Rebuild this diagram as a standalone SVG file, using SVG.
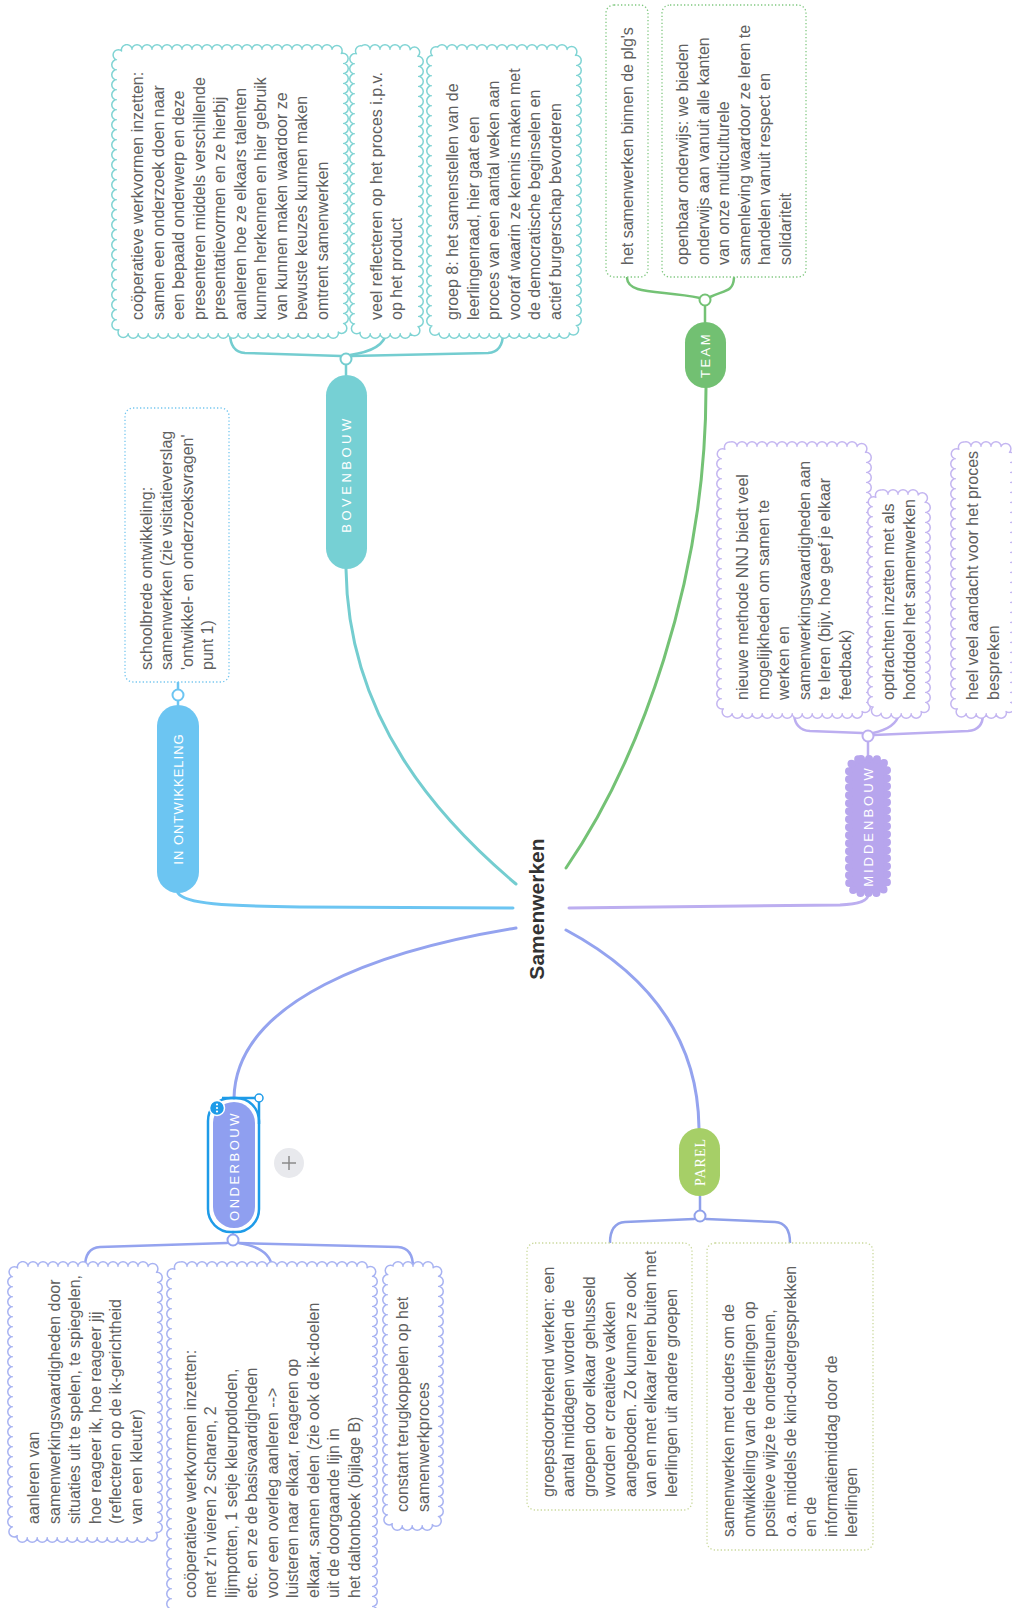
<svg xmlns="http://www.w3.org/2000/svg" width="1012" height="1608" viewBox="0 0 1012 1608">
<style>
.t{font-family:"Liberation Sans",Arial,sans-serif;font-size:16px;fill:#606060}
.pt{font-family:"Liberation Sans",Arial,sans-serif;font-size:13px;fill:#ffffff;letter-spacing:2.5px}
.ct{font-family:"Liberation Sans",Arial,sans-serif;font-size:21px;font-weight:bold;fill:#333333}
.ln{fill:none;stroke-width:3;stroke-linecap:round}
.br{fill:none;stroke-width:2.5;stroke-linecap:round}
.dot{fill:#ffffff;stroke-width:1.3;stroke-dasharray:1.3 2.2}
.scO{fill:none;stroke-width:12;stroke-dasharray:0 10;stroke-linecap:round}
.scI{fill:none;stroke:#ffffff;stroke-width:9;stroke-dasharray:0 10;stroke-linecap:round}
.scF{fill:#ffffff;stroke:none}
.cir{fill:#ffffff;stroke-width:2}
</style>
<rect x="0" y="0" width="1012" height="1608" fill="#ffffff"/>

<g id="connectors">
  <path class="ln" stroke="#6cc5f2" d="M513 908 L300 907 C225 906 185 904 178 893"/>
  <path class="ln" stroke="#74cdd0" d="M516 884 C440 820 348 720 346 569"/>
  <path class="ln" stroke="#74c275" d="M566 868 C640 760 706 580 706 388"/>
  <path class="ln" stroke="#bcaef0" d="M569 908 L840 905 C860 904 868 900 868 895"/>
  <path class="ln" stroke="#94a3ef" d="M516 928 C380 950 236 1000 234 1098"/>
  <path class="ln" stroke="#94a3ef" d="M566 930 C650 975 698 1040 699 1128"/>
  <path class="br" stroke="#6cc5f2" d="M178 705 L178 682"/>
  <path class="br" stroke="#74cdd0" d="M346 375 L346 364"/>
  <path class="br" stroke="#74cdd0" d="M341 356 L245 353 Q230 352 230 333"/>
  <path class="br" stroke="#74cdd0" d="M351 356 L488 353 Q503 352 503 333"/>
  <path class="br" stroke="#74cdd0" d="M350 355 Q384 350 386 333"/>
  <path class="br" stroke="#74c275" d="M705 322 L705 305"/>
  <path class="br" stroke="#74c275" d="M700 298 C660 290 628 295 627 278"/>
  <path class="br" stroke="#74c275" d="M710 297 C725 290 733 292 734 278"/>
  <path class="br" stroke="#bcaef0" d="M868 757 L868 741"/>
  <path class="br" stroke="#bcaef0" d="M862 733 L810 731 Q795 730 794 714"/>
  <path class="br" stroke="#bcaef0" d="M873 733 Q896 728 899 714"/>
  <path class="br" stroke="#bcaef0" d="M874 735 L968 731 Q983 730 983 714"/>
  <path class="br" stroke="#94a3ef" d="M233 1232 L233 1235"/>
  <path class="br" stroke="#94a3ef" d="M227 1243 L100 1247 Q85 1248 85 1267"/>
  <path class="br" stroke="#94a3ef" d="M239 1243 Q270 1248 272 1267"/>
  <path class="br" stroke="#94a3ef" d="M239 1243 L398 1247 Q413 1248 413 1267"/>
  <path class="br" stroke="#8fa0ea" d="M700 1196 L700 1211"/>
  <path class="br" stroke="#8fa0ea" d="M694 1219 L625 1222 Q610 1223 610 1243"/>
  <path class="br" stroke="#8fa0ea" d="M706 1219 L775 1222 Q790 1223 790 1243"/>
</g>

<g id="center">
  <text class="ct" transform="translate(543.5,909) rotate(-90)" text-anchor="middle">Samenwerken</text>
</g>

<g id="in-ontwikkeling">
  <rect x="157" y="705" width="42" height="188" rx="21" fill="#6cc5f2"/>
  <text class="pt" style="letter-spacing:1px" transform="translate(182.5,799) rotate(-90)" text-anchor="middle">IN ONTWIKKELING</text>
  <circle class="cir" stroke="#6cc5f2" cx="178" cy="695" r="5.5"/>
</g>
<g id="in-ontwikkeling-box">
  <rect class="dot" stroke="#74c6ef" x="125" y="408" width="104" height="274" rx="8"/>
  <text class="t" transform="rotate(-90)" x="-670" y="151.75">
    <tspan x="-670">schoolbrede ontwikkeling:</tspan>
    <tspan x="-670" dy="20.5">samenwerken (zie visitatieverslag</tspan>
    <tspan x="-670" dy="20.5">'ontwikkel- en onderzoeksvragen'</tspan>
    <tspan x="-670" dy="20.5">punt 1)</tspan>
  </text>
</g>

<g id="bovenbouw">
  <rect x="326" y="375" width="41" height="194" rx="20.5" fill="#76d0d4"/>
  <text class="pt" style="letter-spacing:3.5px" transform="translate(351,474) rotate(-90)" text-anchor="middle">BOVENBOUW</text>
  <circle class="cir" stroke="#74cdd0" cx="346" cy="359" r="5.5"/>
</g>
<g id="bovenbouw-box1">
  <rect class="scO" stroke="#80d4d4" x="117" y="50" width="226" height="283" rx="10"/>
  <rect class="scI" x="117" y="50" width="226" height="283" rx="10"/>
  <rect class="scF" x="117" y="50" width="226" height="283" rx="10"/>
  <text class="t" transform="rotate(-90)" x="-320" y="143.25">
    <tspan x="-320">coöperatieve werkvormen inzetten:</tspan>
    <tspan x="-320" dy="20.5">samen een onderzoek doen naar</tspan>
    <tspan x="-320" dy="20.5">een bepaald onderwerp en deze</tspan>
    <tspan x="-320" dy="20.5">presenteren middels verschillende</tspan>
    <tspan x="-320" dy="20.5">presentatievormen en ze hierbij</tspan>
    <tspan x="-320" dy="20.5">aanleren hoe ze elkaars talenten</tspan>
    <tspan x="-320" dy="20.5">kunnen herkennen en hier gebruik</tspan>
    <tspan x="-320" dy="20.5">van kunnen maken waardoor ze</tspan>
    <tspan x="-320" dy="20.5">bewuste keuzes kunnen maken</tspan>
    <tspan x="-320" dy="20.5">omtrent samenwerken</tspan>
  </text>
</g>
<g id="bovenbouw-box2">
  <rect class="scO" stroke="#80d4d4" x="355" y="50" width="63" height="283" rx="10"/>
  <rect class="scI" x="355" y="50" width="63" height="283" rx="10"/>
  <rect class="scF" x="355" y="50" width="63" height="283" rx="10"/>
  <text class="t" transform="rotate(-90)" x="-320" y="381.75">
    <tspan x="-320">veel reflecteren op het proces i.p.v.</tspan>
    <tspan x="-320" dy="20.5">op het product</tspan>
  </text>
</g>
<g id="bovenbouw-box3">
  <rect class="scO" stroke="#80d4d4" x="432" y="50" width="144" height="283" rx="10"/>
  <rect class="scI" x="432" y="50" width="144" height="283" rx="10"/>
  <rect class="scF" x="432" y="50" width="144" height="283" rx="10"/>
  <text class="t" transform="rotate(-90)" x="-320" y="458.25">
    <tspan x="-320">groep 8: het samenstellen van de</tspan>
    <tspan x="-320" dy="20.5">leerlingenraad, hier gaat een</tspan>
    <tspan x="-320" dy="20.5">proces van een aantal weken aan</tspan>
    <tspan x="-320" dy="20.5">vooraf waarin ze kennis maken met</tspan>
    <tspan x="-320" dy="20.5">de democratische beginselen en</tspan>
    <tspan x="-320" dy="20.5">actief burgerschap bevorderen</tspan>
  </text>
</g>

<g id="team">
  <rect x="685" y="322" width="41" height="66" rx="20.5" fill="#72c072"/>
  <text class="pt" transform="translate(710,355) rotate(-90)" text-anchor="middle">TEAM</text>
  <circle class="cir" stroke="#74c275" cx="705" cy="300" r="5.5"/>
</g>
<g id="team-box1">
  <rect class="dot" stroke="#7fc77f" x="606" y="5" width="42" height="272" rx="8"/>
  <text class="t" transform="rotate(-90)" x="-265" y="632.5">het samenwerken binnen de plg's</text>
</g>
<g id="team-box2">
  <rect class="dot" stroke="#7fc77f" x="662" y="5" width="144" height="272" rx="8"/>
  <text class="t" transform="rotate(-90)" x="-265" y="688.25">
    <tspan x="-265">openbaar onderwijs: we bieden</tspan>
    <tspan x="-265" dy="20.5">onderwijs aan vanuit alle kanten</tspan>
    <tspan x="-265" dy="20.5">van onze multiculturele</tspan>
    <tspan x="-265" dy="20.5">samenleving waardoor ze leren te</tspan>
    <tspan x="-265" dy="20.5">handelen vanuit respect en</tspan>
    <tspan x="-265" dy="20.5">solidariteit</tspan>
  </text>
</g>

<g id="middenbouw">
  <rect x="849" y="759" width="38" height="134" rx="12" fill="#b7a5ed" stroke="#b7a5ed" stroke-width="8" stroke-dasharray="0 8" stroke-linecap="round"/>
  <text class="pt" style="letter-spacing:3px" transform="translate(872.5,826) rotate(-90)" text-anchor="middle">MIDDENBOUW</text>
  <circle class="cir" stroke="#bcaef0" cx="868" cy="736" r="5.5"/>
</g>
<g id="middenbouw-box1">
  <rect class="scO" stroke="#c4b6f1" x="722" y="447" width="144" height="266" rx="10"/>
  <rect class="scI" x="722" y="447" width="144" height="266" rx="10"/>
  <rect class="scF" x="722" y="447" width="144" height="266" rx="10"/>
  <text class="t" transform="rotate(-90)" x="-700" y="748.25">
    <tspan x="-700">nieuwe methode NNJ biedt veel</tspan>
    <tspan x="-700" dy="20.5">mogelijkheden om samen te</tspan>
    <tspan x="-700" dy="20.5">werken en</tspan>
    <tspan x="-700" dy="20.5">samenwerkingsvaardigheden aan</tspan>
    <tspan x="-700" dy="20.5">te leren (bijv. hoe geef je elkaar</tspan>
    <tspan x="-700" dy="20.5">feedback)</tspan>
  </text>
</g>
<g id="middenbouw-box2">
  <rect class="scO" stroke="#c4b6f1" x="873" y="495" width="52" height="218" rx="10"/>
  <rect class="scI" x="873" y="495" width="52" height="218" rx="10"/>
  <rect class="scF" x="873" y="495" width="52" height="218" rx="10"/>
  <text class="t" transform="rotate(-90)" x="-700" y="894.25">
    <tspan x="-700">opdrachten inzetten met als</tspan>
    <tspan x="-700" dy="20.5">hoofddoel het samenwerken</tspan>
  </text>
</g>
<g id="middenbouw-box3">
  <rect class="scO" stroke="#c4b6f1" x="956" y="447" width="54" height="266" rx="10"/>
  <rect class="scI" x="956" y="447" width="54" height="266" rx="10"/>
  <rect class="scF" x="956" y="447" width="54" height="266" rx="10"/>
  <text class="t" transform="rotate(-90)" x="-700" y="978.25">
    <tspan x="-700">heel veel aandacht voor het proces</tspan>
    <tspan x="-700" dy="20.5">bespreken</tspan>
  </text>
</g>

<g id="onderbouw">
  <rect x="213" y="1102" width="42" height="126" rx="21" fill="#8f9ff0"/>
  <rect x="208" y="1098" width="51" height="134" rx="23" fill="none" stroke="#1e9be8" stroke-width="2.5"/>
  <path d="M222 1098 L259 1098 L259 1124" fill="none" stroke="#1e9be8" stroke-width="2.5"/>
  <text class="pt" style="letter-spacing:2.5px" transform="translate(238.5,1166) rotate(-90)" text-anchor="middle">ONDERBOUW</text>
  <circle cx="217" cy="1108" r="7.5" fill="#1e9be8" stroke="#ffffff" stroke-width="1.5"/>
  <circle cx="217" cy="1104.5" r="1.1" fill="#ffffff"/>
  <circle cx="217" cy="1108" r="1.1" fill="#ffffff"/>
  <circle cx="217" cy="1111.5" r="1.1" fill="#ffffff"/>
  <circle cx="259" cy="1098" r="4" fill="#ffffff" stroke="#1e9be8" stroke-width="1.5"/>
  <circle class="cir" stroke="#94a3ef" cx="233" cy="1240" r="5.5"/>
</g>
<g id="add-button">
  <circle cx="289" cy="1163" r="15" fill="#e8e9ed"/>
  <path d="M282 1163 L296 1163 M289 1156 L289 1170" stroke="#8a8a8a" stroke-width="1.5"/>
</g>
<g id="onderbouw-box1">
  <rect class="scO" stroke="#a8b3f2" x="13" y="1267" width="144" height="270" rx="10"/>
  <rect class="scI" x="13" y="1267" width="144" height="270" rx="10"/>
  <rect class="scF" x="13" y="1267" width="144" height="270" rx="10"/>
  <text class="t" transform="rotate(-90)" x="-1524" y="39.25">
    <tspan x="-1524">aanleren van</tspan>
    <tspan x="-1524" dy="20.5">samenwerkingsvaardigheden door</tspan>
    <tspan x="-1524" dy="20.5">situaties uit te spelen, te spiegelen,</tspan>
    <tspan x="-1524" dy="20.5">hoe reageer ik, hoe reageer jij</tspan>
    <tspan x="-1524" dy="20.5">(reflecteren op de ik-gerichtheid</tspan>
    <tspan x="-1524" dy="20.5">van een kleuter)</tspan>
  </text>
</g>
<g id="onderbouw-box2">
  <rect class="scO" stroke="#a8b3f2" x="172" y="1267" width="200" height="360" rx="10"/>
  <rect class="scI" x="172" y="1267" width="200" height="360" rx="10"/>
  <rect class="scF" x="172" y="1267" width="200" height="360" rx="10"/>
  <text class="t" transform="rotate(-90)" x="-1598" y="195.5">
    <tspan x="-1598">coöperatieve werkvormen inzetten:</tspan>
    <tspan x="-1598" dy="20.5">met z'n vieren 2 scharen, 2</tspan>
    <tspan x="-1598" dy="20.5">lijmpotten, 1 setje kleurpotloden,</tspan>
    <tspan x="-1598" dy="20.5">etc. en ze de basisvaardigheden</tspan>
    <tspan x="-1598" dy="20.5">voor een overleg aanleren --&gt;</tspan>
    <tspan x="-1598" dy="20.5">luisteren naar elkaar, reageren op</tspan>
    <tspan x="-1598" dy="20.5">elkaar, samen delen (zie ook de ik-doelen</tspan>
    <tspan x="-1598" dy="20.5">uit de doorgaande lijn in</tspan>
    <tspan x="-1598" dy="20.5">het daltonboek (bijlage B)</tspan>
  </text>
</g>
<g id="onderbouw-box3">
  <rect class="scO" stroke="#a8b3f2" x="388" y="1267" width="50" height="258" rx="10"/>
  <rect class="scI" x="388" y="1267" width="50" height="258" rx="10"/>
  <rect class="scF" x="388" y="1267" width="50" height="258" rx="10"/>
  <text class="t" transform="rotate(-90)" x="-1512" y="408.25">
    <tspan x="-1512">constant terugkoppelen op het</tspan>
    <tspan x="-1512" dy="20.5">samenwerkproces</tspan>
  </text>
</g>

<g id="parel">
  <rect x="679" y="1128" width="41" height="68" rx="20.5" fill="#a6cf67"/>
  <text style="font-family:'Liberation Serif',serif;font-size:14px;fill:#ffffff;letter-spacing:1px" transform="translate(704.5,1162) rotate(-90)" text-anchor="middle">PAREL</text>
  <circle class="cir" stroke="#8fa0ea" cx="700" cy="1216" r="5.5"/>
</g>
<g id="parel-box1">
  <rect class="dot" stroke="#c9d89a" x="527" y="1243" width="165" height="267" rx="8"/>
  <text class="t" transform="rotate(-90)" x="-1497" y="553.5">
    <tspan x="-1497">groepsdoorbrekend werken: een</tspan>
    <tspan x="-1497" dy="20.5">aantal middagen worden de</tspan>
    <tspan x="-1497" dy="20.5">groepen door elkaar gehusseld</tspan>
    <tspan x="-1497" dy="20.5">worden er creatieve vakken</tspan>
    <tspan x="-1497" dy="20.5">aangeboden. Zo kunnen ze ook</tspan>
    <tspan x="-1497" dy="20.5">van en met elkaar leren buiten met</tspan>
    <tspan x="-1497" dy="20.5">leerlingen uit andere groepen</tspan>
  </text>
</g>
<g id="parel-box2">
  <rect class="dot" stroke="#c9d89a" x="707" y="1243" width="166" height="307" rx="8"/>
  <text class="t" transform="rotate(-90)" x="-1537" y="734">
    <tspan x="-1537">samenwerken met ouders om de</tspan>
    <tspan x="-1537" dy="20.5">ontwikkeling van de leerlingen op</tspan>
    <tspan x="-1537" dy="20.5">positieve wijze te ondersteunen,</tspan>
    <tspan x="-1537" dy="20.5">o.a. middels de kind-oudergesprekken</tspan>
    <tspan x="-1537" dy="20.5">en de</tspan>
    <tspan x="-1537" dy="20.5">informatiemiddag door de</tspan>
    <tspan x="-1537" dy="20.5">leerlingen</tspan>
  </text>
</g>
</svg>
